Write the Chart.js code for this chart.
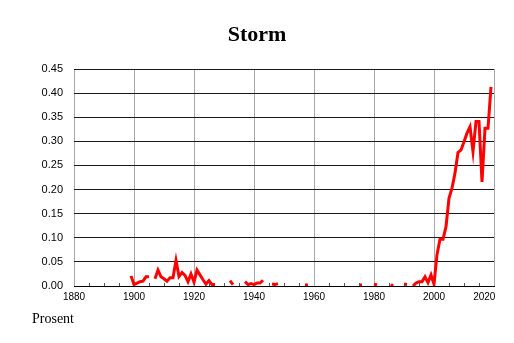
<!DOCTYPE html>
<html>
<head>
<meta charset="utf-8">
<script src="https://cdn.jsdelivr.net/npm/chart.js@4.4.1/dist/chart.umd.min.js"></script>
<style>
  html, body { margin: 0; padding: 0; background: #fff; }
  canvas { display: block; }
</style>
</head>
<body>
<canvas id="stormChart" width="514" height="343"></canvas>
<script>
const chartTitle = "Storm";
const unitLabel = "Prosent";

const years = [
  1899,
  1900, 1901, 1902, 1903, 1904, 1905, 1906, 1907, 1908, 1909,
  1910, 1911, 1912, 1913, 1914, 1915, 1916, 1917, 1918, 1919,
  1920, 1921, 1922, 1923, 1924, 1925, 1926, 1927, 1928, 1929,
  1930, 1931, 1932, 1933, 1934, 1935, 1936, 1937, 1938, 1939,
  1940, 1941, 1942, 1943, 1944, 1945, 1946, 1947, 1948, 1949,
  1950, 1951, 1952, 1953, 1954, 1955, 1956, 1957, 1958, 1959,
  1960, 1961, 1962, 1963, 1964, 1965, 1966, 1967, 1968, 1969,
  1970, 1971, 1972, 1973, 1974, 1975, 1976, 1977, 1978, 1979,
  1980, 1981, 1982, 1983, 1984, 1985, 1986, 1987, 1988, 1989,
  1990, 1991, 1992, 1993, 1994, 1995, 1996, 1997, 1998, 1999,
  2000, 2001, 2002, 2003, 2004, 2005, 2006, 2007, 2008, 2009,
  2010, 2011, 2012, 2013, 2014, 2015, 2016, 2017, 2018, 2019
];

// null = no value that year (gap in the line)
const storm = [
  0.021,
  0.003, 0.006, 0.009, 0.010, 0.019, 0.019, null, 0.015, 0.033, 0.019,
  0.015, 0.010, 0.017, 0.017, 0.053, 0.020, 0.028, 0.022, 0.009, 0.025,
  0.008, 0.033, 0.023, 0.013, 0.004, 0.011, 0.003, 0.003, null, null,
  null, null, 0.011, 0.003, null, null, null, 0.009, 0.003, 0.005,
  0.003, 0.006, 0.006, 0.012, null, null, 0.004, 0.003, 0.005, null,
  null, null, null, null, null, null, null, 0.002, 0.002, null,
  null, null, null, null, null, null, null, null, null, null,
  null, null, null, null, null, 0.002, 0.002, null, null, null,
  0.004, 0.002, null, null, null, null, 0.002, null, null, null,
  0.004, 0.003, null, 0.000, 0.006, 0.009, 0.009, 0.019, 0.007, 0.023,
  0.004, 0.065, 0.097, 0.097, 0.123, 0.182, 0.203, 0.234, 0.277, 0.282,
  0.299, 0.317, 0.330, 0.279, 0.341, 0.341, 0.216, 0.327, 0.327, 0.413
];

const xTicks = [1880, 1900, 1920, 1940, 1960, 1980, 2000, 2020];
const yTicks = [0, 0.05, 0.1, 0.15, 0.2, 0.25, 0.3, 0.35, 0.4, 0.45];

const sansFamily = "'Liberation Sans', Arial, sans-serif";

// short inward ticks every 5 years on the bottom axis + unit label
const extrasPlugin = {
  id: "extras",
  afterDraw(chart) {
    const ctx = chart.ctx;
    const xs = chart.scales.x;
    const bottom = chart.chartArea.bottom;
    ctx.save();
    ctx.strokeStyle = "#555";
    ctx.lineWidth = 1;
    for (let v = xs.min + 5; v < xs.max; v += 5) {
      if (v % 20 === 0) continue;
      const px = Math.round(xs.getPixelForValue(v)) + 0.5;
      ctx.beginPath();
      ctx.moveTo(px, bottom);
      ctx.lineTo(px, bottom - 3);
      ctx.stroke();
    }
    ctx.fillStyle = "#000";
    ctx.font = "14px 'Liberation Serif', 'Times New Roman', serif";
    ctx.textBaseline = "alphabetic";
    ctx.textAlign = "left";
    ctx.fillText(unitLabel, 32, 323);
    ctx.restore();
  }
};

const isolated = (i) => storm[i] !== null &&
  (i === 0 || storm[i - 1] === null) &&
  (i === storm.length - 1 || storm[i + 1] === null);

new Chart(document.getElementById("stormChart"), {
  type: "line",
  data: {
    datasets: [{
      label: chartTitle,
      data: years.map((yr, i) => ({ x: yr, y: storm[i] })),
      borderColor: "#ff0000",
      backgroundColor: "#ff0000",
      borderWidth: 3,
      tension: 0,
      spanGaps: false,
      pointRadius: (c) => isolated(c.dataIndex) ? 1.6 : 0,
      pointBorderWidth: 0,
      pointHoverRadius: 0
    }]
  },
  options: {
    responsive: false,
    animation: false,
    layout: { padding: { left: 20, right: 20, top: 0, bottom: 0 } },
    plugins: {
      legend: { display: false },
      tooltip: { enabled: false },
      title: {
        display: true,
        text: chartTitle,
        color: "#000",
        font: { family: "'Liberation Serif', 'Times New Roman', serif", size: 22, weight: "bold" },
        padding: { top: 22, bottom: 20.6 }
      }
    },
    scales: {
      x: {
        type: "linear",
        min: 1880,
        max: 2020,
        afterBuildTicks: (s) => { s.ticks = xTicks.map((v) => ({ value: v })); },
        afterFit: (s) => { s.height = 57; s.paddingLeft = 0; s.paddingRight = 0; },
        ticks: {
          color: "#000",
          font: { family: sansFamily, size: 10 },
          padding: 5,
          maxRotation: 0,
          autoSkip: false,
          callback: (v) => v === 2020 ? "2020       " : String(v)
        },
        grid: { color: "#a8a8a8", lineWidth: 1, drawTicks: false },
        border: { display: true, color: "#000", width: 1 }
      },
      y: {
        min: 0,
        max: 0.45,
        afterBuildTicks: (s) => { s.ticks = yTicks.map((v) => ({ value: v })); },
        afterFit: (s) => { s.width = 54; s.paddingTop = 0; s.paddingBottom = 0; },
        ticks: {
          color: "#000",
          font: { family: sansFamily, size: 11 },
          padding: 11,
          callback: (v) => Number(v).toFixed(2)
        },
        grid: { color: "#1a1a1a", lineWidth: 1, drawTicks: false },
        border: { display: false }
      }
    }
  },
  plugins: [extrasPlugin]
});
</script>
</body>
</html>
